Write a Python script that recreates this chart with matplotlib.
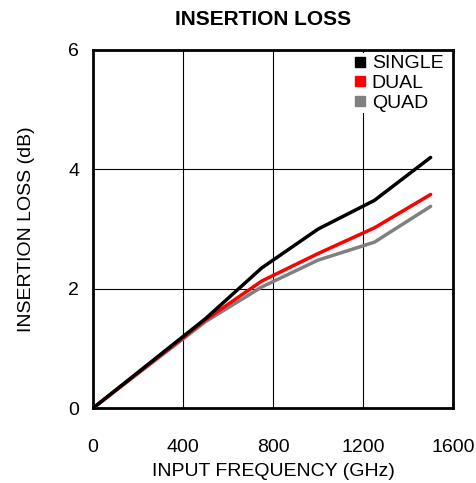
import matplotlib
matplotlib.use('Agg')
from matplotlib import pyplot as plt
from matplotlib.lines import Line2D

plt.rcParams['font.family'] = ['Liberation Sans', 'DejaVu Sans']

# Insertion loss vs input frequency for each configuration
freq = [0, 200, 400, 500, 750, 1000, 1250, 1500]
single = [0, 0.6, 1.2, 1.5, 2.35, 3.0, 3.48, 4.2]
dual = [0, 0.59, 1.18, 1.48, 2.13, 2.59, 3.02, 3.58]
quad = [0, 0.58, 1.16, 1.45, 2.03, 2.48, 2.78, 3.38]

names = ['SINGLE', 'DUAL', 'QUAD']
colors = ['#000000', '#ff0000', '#808080']

fig = plt.figure(figsize=(4.77, 4.83), dpi=100)
ax = fig.add_axes([0.195, 0.155, 0.755, 0.7415])

for y, c in zip([quad, dual, single], colors[::-1]):
    ax.plot(freq, y, color=c, linewidth=2.5, solid_capstyle='round', zorder=3)

ax.set_xlim(0, 1600)
ax.set_ylim(0, 6)
ax.set_xticks([0, 400, 800, 1200, 1600])
ax.set_yticks([0, 2, 4, 6])
ax.grid(True, color='black', linewidth=0.8)
ax.tick_params(length=0, labelsize=14)
ax.tick_params(axis='x', pad=22)
ax.tick_params(axis='y', pad=10)
for s in ax.spines.values():
    s.set_linewidth(2)

ax.set_xlabel('INPUT FREQUENCY (GHz)', fontsize=14, labelpad=5)
ax.set_ylabel('INSERTION LOSS (dB)', fontsize=14, labelpad=24)
ax.set_title('INSERTION LOSS', fontsize=15, fontweight='bold', pad=18, x=0.472)

handles = [Line2D([], [], marker='s', linestyle='none', color=c, markersize=7) for c in colors]
leg = ax.legend(handles, names, loc='upper right', bbox_to_anchor=(0.978, 0.992),
                frameon=True, fontsize=14,
                handletextpad=0.3, borderpad=0.1, labelspacing=0.1,
                handlelength=0.6, borderaxespad=0, fancybox=False)
leg.get_frame().set_edgecolor('none')
leg.get_frame().set_alpha(1)

fig.savefig('out.png', dpi=100)
